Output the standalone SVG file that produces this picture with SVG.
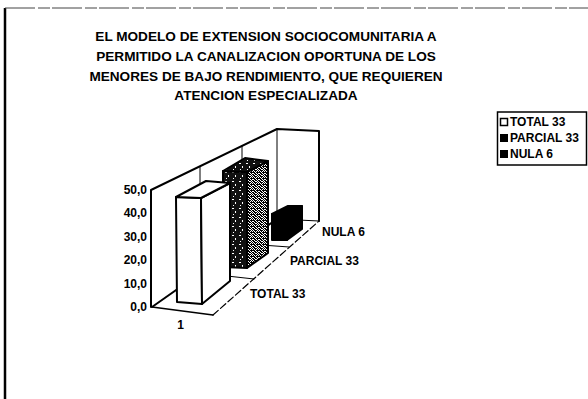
<svg xmlns="http://www.w3.org/2000/svg" width="588" height="399" viewBox="0 0 588 399">
<defs>
<style>
text { font-family: "Liberation Sans", Arial, sans-serif; font-weight: bold; fill: #000; }
.title { font-size: 13.6px; text-anchor: middle; }
.lbl { font-size: 12px; }
.ax { font-size: 12px; text-anchor: end; }
.edge { fill: none; stroke: #000; stroke-linejoin: round; stroke-linecap: round; }
.bar { stroke: #000; stroke-width: 2; stroke-linejoin: round; }
</style>
<pattern id="pDark" width="7" height="9" patternUnits="userSpaceOnUse">
<rect width="7" height="9" fill="#111"/>
<rect x="1" y="1" width="2" height="1" fill="#fff"/>
<rect x="4" y="4" width="1" height="2" fill="#fff"/>
<rect x="2" y="7" width="1" height="1" fill="#fff"/>
</pattern>
<pattern id="pSpeck" width="6" height="6" patternUnits="userSpaceOnUse">
<rect width="6" height="6" fill="#fff"/>
<path d="M0 0h2v1H0z M3 0h2v1H3z M1 1h2v1H1z M5 1h1v1H5z M0 2h1v1H0z M2 2h3v1H2z M1 3h1v1H1z M3 3h1v1H3z M5 3h1v1H5z M0 4h3v1H0z M4 4h2v1H4z M2 5h2v1H2z M5 5h1v1H5z" fill="#000"/>
</pattern>
</defs>

<g id="frame">
<line x1="5" y1="8" x2="5" y2="399" stroke="#000" stroke-width="2.5"/>
<line x1="5" y1="8" x2="588" y2="8" stroke="#444" stroke-width="1" stroke-dasharray="30 3 12 2"/>
</g>

<g id="title">
<text class="title" x="266" y="41">EL MODELO DE EXTENSION SOCIOCOMUNITARIA A</text>
<text class="title" x="266" y="61">PERMITIDO LA CANALIZACION OPORTUNA DE LOS</text>
<text class="title" x="266" y="81">MENORES DE BAJO RENDIMIENTO, QUE REQUIEREN</text>
<text class="title" x="266" y="100">ATENCION ESPECIALIZADA</text>
</g>

<g id="legend">
<rect x="497.5" y="112" width="89" height="53" fill="#fff" stroke="#000" stroke-width="1.5"/>
<rect x="500.5" y="118.5" width="7" height="7" fill="#fff" stroke="#000" stroke-width="1.5"/>
<text class="lbl" x="510" y="126">TOTAL 33</text>
<rect x="500" y="134" width="8" height="8" fill="#000"/>
<text class="lbl" x="510" y="142">PARCIAL 33</text>
<rect x="500" y="150" width="8" height="8" fill="#000"/>
<text class="lbl" x="510" y="158">NULA 6</text>
</g>

<g id="walls">
<polygon points="151,190 277,129 277,219 152,307" fill="#fff"/>
<polygon points="277,129 319,131 319,221 277,219" fill="#fff"/>
<polygon points="152,307 213,315 319,221 277,219" fill="#fff"/>
<line class="edge" x1="277" y1="129" x2="277" y2="219" stroke-width="1"/>
<line class="edge" x1="277" y1="219" x2="319" y2="221" stroke-width="1"/>
<line class="edge" x1="152" y1="307" x2="277" y2="219" stroke-width="2"/>
<line class="edge" x1="200" y1="166.3" x2="200" y2="273" stroke-width="1"/>
<line class="edge" x1="242" y1="146" x2="242" y2="243.6" stroke-width="1"/>
<line class="edge" x1="200" y1="273" x2="254" y2="279" stroke-width="1"/>
<line class="edge" x1="242" y1="243.6" x2="289" y2="247" stroke-width="1"/>
<line class="edge" x1="152" y1="307" x2="213" y2="315" stroke-width="1.5"/>
<line class="edge" x1="213" y1="315" x2="319" y2="221" stroke-width="1.2" stroke-dasharray="7 3"/>
<polyline class="edge" points="151,307 151,190 277,129 319,131 319,221" stroke-width="2"/>
</g>

<g id="bar-nula">
<polygon class="bar" points="272,214 287,214 287,240 272,240" fill="#000"/>
<polygon class="bar" points="287,214 302,206 302,229 287,240" fill="#000"/>
<polygon class="bar" points="272,214 287,214 302,206 288,206" fill="#000"/>
</g>

<g id="bar-parcial">
<polygon class="bar" points="223,171 247,172 247,268 223,267" fill="url(#pDark)"/>
<polygon class="bar" points="247,172 268,161 268,253 247,268" fill="url(#pSpeck)"/>
<polygon class="bar" points="223,171 247,172 268,161 245,158" fill="url(#pDark)"/>
</g>

<g id="bar-total">
<polygon class="bar" points="176,197 201,198 202,304 177,302" fill="#fff"/>
<polygon class="bar" points="201,198 230,183 230,281 202,304" fill="#fff"/>
<polygon class="bar" points="176,197 201,198 230,183 206,181" fill="#fff"/>
</g>

<g id="axis-labels">
<text class="ax" x="147" y="194">50,0</text>
<text class="ax" x="147" y="217.4">40,0</text>
<text class="ax" x="147" y="240.8">30,0</text>
<text class="ax" x="147" y="264.2">20,0</text>
<text class="ax" x="147" y="287.6">10,0</text>
<text class="ax" x="147" y="311">0,0</text>
<text class="lbl" x="180.5" y="329" text-anchor="middle">1</text>
<text class="lbl" x="250" y="298">TOTAL 33</text>
<text class="lbl" x="290" y="265">PARCIAL 33</text>
<text class="lbl" x="322" y="236">NULA 6</text>
</g>
</svg>
